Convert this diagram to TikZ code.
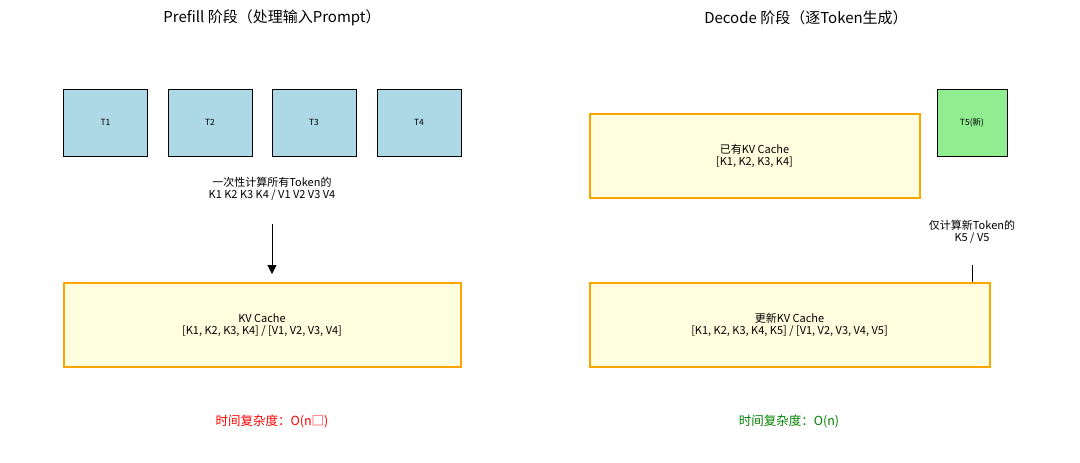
\documentclass[tikz,border=0pt]{standalone}
\usepackage{fontspec}
\setmainfont{Noto Sans CJK SC}
\usetikzlibrary{arrows.meta}
\definecolor{tokblue}{HTML}{ADD8E6}
\definecolor{tokgreen}{HTML}{90EE90}
\definecolor{cacheyellow}{HTML}{FFFFE0}
\definecolor{cacheorange}{HTML}{FFA500}
\definecolor{cxgreen}{HTML}{008000}
\tikzset{
  tok/.style={draw=black, line width=0.9pt, fill=tokblue, inner sep=0pt, font=\fontsize{8.5}{10}\selectfont},
  newtok/.style={tok, fill=tokgreen},
  cache/.style={draw=cacheorange, line width=2pt, fill=cacheyellow, inner sep=0pt, align=center, font=\fontsize{11}{12.5}\selectfont},
  ttl/.style={font=\fontsize{15}{17}\selectfont},
  note/.style={align=center, font=\fontsize{11}{12.5}\selectfont},
  cx/.style={font=\fontsize{12.5}{14}\selectfont},
  conn/.style={draw=black, line width=1pt},
}
\begin{document}
\begin{tikzpicture}[x=1pt,y=-1pt]
\useasboundingbox (0,0) rectangle (1080,463);
% titles
\node[ttl] (t1) at (272,18) {Prefill 阶段（处理输入Prompt）};
\node[ttl] (t2) at (806,18) {Decode 阶段（逐Token生成）};
% tokens
\node[tok, minimum width=84pt, minimum height=67pt] (T1) at (105.5,122.5) {T1};
\node[tok, minimum width=84pt, minimum height=67pt] (T2) at (210,122.5) {T2};
\node[tok, minimum width=84pt, minimum height=67pt] (T3) at (314,122.5) {T3};
\node[tok, minimum width=84pt, minimum height=67pt] (T4) at (419,122.5) {T4};
\node[note] (n1) at (272,189) {一次性计算所有Token的\\K1 K2 K3 K4 / V1 V2 V3 V4};
\node[cache, minimum width=397pt, minimum height=84pt] (kv) at (262,325) {KV Cache\\{[K1, K2, K3, K4] / [V1, V2, V3, V4]}};
\coordinate (a1) at (272,224);
\draw[conn, -{Triangle[length=9pt,width=9pt]}, shorten >=8pt] (a1) -- (a1 |- kv.north);
\node[cx, text=red] (c1) at (272,421) {时间复杂度：O(n□)};
% decode
\node[cache, minimum width=330pt, minimum height=84pt] (old) at (754.5,156) {已有KV Cache\\{[K1, K2, K3, K4]}};
\node[newtok, minimum width=70pt, minimum height=67pt] (T5) at (972,122.5) {T5(新)};
\node[note] (n2) at (972,232) {仅计算新Token的\\K5 / V5};
\node[cache, minimum width=400pt, minimum height=84pt] (upd) at (789.5,325) {更新KV Cache\\{[K1, K2, K3, K4, K5] / [V1, V2, V3, V4, V5]}};
\coordinate (a2) at (972,265);
\draw[conn] (a2) -- (a2 |- upd.north);
\node[cx, text=cxgreen] (c2) at (789,421) {时间复杂度：O(n)};
\end{tikzpicture}
\end{document}
